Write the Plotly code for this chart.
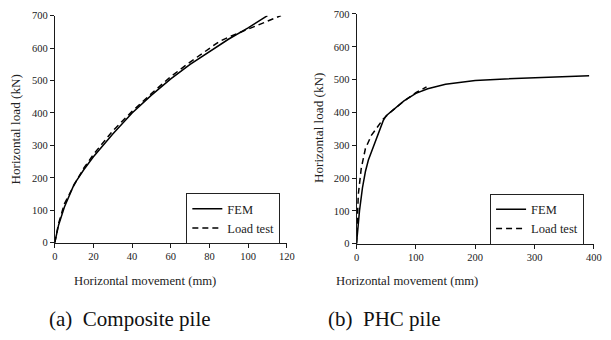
import plotly.graph_objects as go

# (a) Composite pile
a_fem_x = [0, 1, 2, 5, 10, 15, 20, 30, 40, 50, 60, 70, 80, 90, 100, 110]
a_fem_y = [0, 30, 55, 110, 180, 225, 265, 335, 400, 455, 505, 550, 590, 628, 662, 700]
a_test_x = [0, 2, 5, 10, 15, 20, 30, 40, 50, 60, 70, 80, 85, 90, 95, 100, 110, 117]
a_test_y = [0, 60, 120, 178, 230, 272, 345, 405, 460, 512, 557, 600, 620, 634, 646, 660, 682, 700]

# (b) PHC pile
b_fem_x = [0, 2, 5, 10, 15, 20, 30, 40, 45, 50, 60, 80, 100, 120, 150, 200, 250, 300, 350, 392]
b_fem_y = [0, 50, 100, 170, 220, 255, 305, 350, 375, 390, 405, 435, 458, 472, 486, 497, 502, 506, 509, 512]
b_test_x = [0, 1, 3, 8, 15, 25, 35, 45, 60, 80, 100, 118]
b_test_y = [0, 60, 150, 230, 290, 330, 355, 380, 405, 435, 460, 478]

x_title = "Horizontal movement (mm)"
y_title = "Horizontal load (kN)"
captions = ["(a)  Composite pile", "(b)  PHC pile"]

FONT = "Liberation Serif"
LINE = "#1a1a1a"
TXT = "#222"
dash = "6px,4px"

fig = go.Figure()
fig.add_trace(go.Scatter(x=a_fem_x, y=a_fem_y, mode="lines", name="FEM",
                         line=dict(color="black", width=1.5), xaxis="x", yaxis="y", legend="legend"))
fig.add_trace(go.Scatter(x=a_test_x, y=a_test_y, mode="lines", name="Load test",
                         line=dict(color="black", width=1.5, dash=dash), xaxis="x", yaxis="y", legend="legend"))
fig.add_trace(go.Scatter(x=b_fem_x, y=b_fem_y, mode="lines", name="FEM",
                         line=dict(color="black", width=1.5), xaxis="x2", yaxis="y2", legend="legend2"))
fig.add_trace(go.Scatter(x=b_test_x, y=b_test_y, mode="lines", name="Load test",
                         line=dict(color="black", width=1.5, dash=dash), xaxis="x2", yaxis="y2", legend="legend2"))

W, H = 611, 340
def px(x): return x / W
def py(y): return 1 - y / H

axis_common = dict(showline=True, linecolor=LINE, linewidth=1, ticks="outside", ticklen=4,
                   tickcolor=LINE, showgrid=False, zeroline=False,
                   tickfont=dict(family=FONT, size=10.5, color=TXT))

legend_common = dict(bordercolor="#222", borderwidth=1, bgcolor="white",
                     font=dict(family=FONT, size=12.5, color=TXT),
                     xanchor="left", yanchor="top", tracegroupgap=0, itemwidth=30)

fig.update_layout(
    width=W, height=H, margin=dict(l=0, r=0, t=0, b=0),
    paper_bgcolor="white", plot_bgcolor="white",
    font=dict(family=FONT),
    xaxis=dict(domain=[px(52.7), px(289)], range=[0, 120], dtick=20, anchor="y", **axis_common),
    yaxis=dict(domain=[py(245.7), py(11)], range=[0, 700], dtick=100, anchor="x", **axis_common),
    xaxis2=dict(domain=[px(360), px(601.7)], range=[0, 400], dtick=100, anchor="y2", **axis_common),
    yaxis2=dict(domain=[py(246.7), py(9.3)], range=[0, 700], dtick=100, anchor="x2", **axis_common),
    legend=dict(x=px(186.7), y=py(194.3), **legend_common),
    legend2=dict(x=px(496), y=py(195), **legend_common),
    annotations=[
        dict(text=x_title, x=px(145), y=py(285), xref="paper", yref="paper", showarrow=False,
             font=dict(family=FONT, size=12.7, color=TXT), xanchor="center", yanchor="middle"),
        dict(text=x_title, x=px(411), y=py(285), xref="paper", yref="paper", showarrow=False,
             font=dict(family=FONT, size=12.7, color=TXT), xanchor="center", yanchor="middle"),
        dict(text=y_title, x=px(13), y=py(128), xref="paper", yref="paper", showarrow=False, textangle=-90,
             font=dict(family=FONT, size=13.2, color=TXT), xanchor="center", yanchor="middle"),
        dict(text=y_title, x=px(322), y=py(127), xref="paper", yref="paper", showarrow=False, textangle=-90,
             font=dict(family=FONT, size=13.2, color=TXT), xanchor="center", yanchor="middle"),
        dict(text=captions[0], x=px(129), y=py(325), xref="paper", yref="paper", showarrow=False,
             font=dict(family=FONT, size=21, color="#111"), xanchor="center", yanchor="middle"),
        dict(text=captions[1], x=px(389), y=py(325), xref="paper", yref="paper", showarrow=False,
             font=dict(family=FONT, size=21, color="#111"), xanchor="center", yanchor="middle"),
    ],
)

fig.write_html("out.html")
